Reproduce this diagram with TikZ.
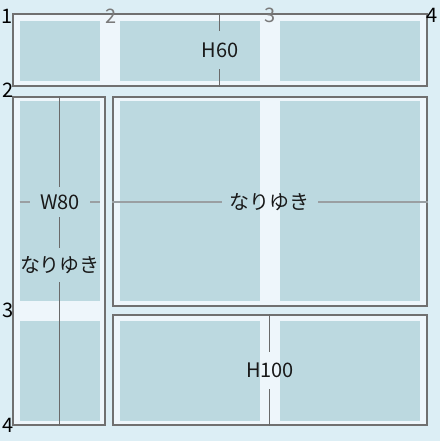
\documentclass[tikz,border=0pt]{standalone}
\usepackage{fontspec}
\setmainfont{Noto Sans CJK JP}
\usetikzlibrary{fit}

\definecolor{bgblue}{HTML}{DCEEF5}
\definecolor{boxfill}{HTML}{EEF6FB}
\definecolor{cellblue}{HTML}{BCD9E0}
\definecolor{edgegray}{HTML}{707070}
\definecolor{dimdark}{HTML}{6A6A6A}
\definecolor{dimlight}{HTML}{9A9FA2}
\definecolor{numgray}{HTML}{7A7A7A}

\begin{document}
\begin{tikzpicture}[x=0.5pt,y=-0.5pt,
  area/.style={draw=edgegray, line width=1pt, fill=boxfill, inner sep=0pt},
  cell/.style={fill=cellblue, inner sep=0pt},
  tag/.style={inner sep=0pt, font=\fontsize{10}{12}\selectfont, text=black!90},
  lineno/.style={inner sep=0pt, font=\fontsize{10}{12}\selectfont},
  dimv/.style={draw=dimdark, line width=0.5pt},
  dimh/.style={draw=dimlight, line width=0.6pt}]

% Background
\fill[bgblue] (0,0) rectangle (440,441);
\useasboundingbox (0,0) rectangle (440,441);

% Draw the grid areas
\node[area, fit={(13,14) (427,86)}] (topbox) {};
\node[area, fit={(13,97) (105,425)}] (leftbox) {};
\node[area, fit={(113,97) (427,306)}] (bigbox) {};
\node[area, fit={(113,315) (427,425)}] (lowbox) {};

% Draw the cells
\foreach \name/\xa/\ya/\xb/\yb in {t1/20/21/100/81, t2/120/21/260/81, t3/280/21/420/81,
    l1/20/101/100/301, l2/20/321/100/421,
    b1/120/101/260/301, b2/280/101/420/301,
    d1/120/321/260/421, d2/280/321/420/421}
  \node[cell, fit={(\xa,\ya) (\xb,\yb)}] (\name) {};

% Labels
\node[tag, minimum height=19pt] (h60) at (220,50) {H60};
\node[tag, minimum width=30pt, minimum height=15pt] (w80) at (60,202) {W80};
\node[tag, minimum height=17pt] (autoa) at (60,265) {なりゆき};
\node[tag, minimum width=48pt, minimum height=15pt] (autob) at (270,202) {なりゆき};
\node[tag, minimum height=18.5pt] (h100) at (270,370.5) {H100};

% Size lines
\draw[dimv] (h60.north |- topbox.north) -- (h60.north);
\draw[dimv] (h60.south) -- (h60.south |- topbox.south);
\draw[dimv] (leftbox.north -| w80) -- (w80.north);
\draw[dimv] (w80.south) -- (autoa.north);
\draw[dimv] (autoa.south) -- (leftbox.south -| autoa);
\draw[dimh] (l1.west |- w80) -- (w80.west);
\draw[dimh] (w80.east) -- (l1.east |- w80);
\draw[dimh] (bigbox.west |- autob) -- (autob.west);
\draw[dimh] (autob.east) -- (bigbox.east |- autob);
\draw[dimv] (h100.north |- lowbox.north) -- (h100.north);
\draw[dimv] (h100.south) -- (h100.south |- lowbox.south);

% Line numbers
\foreach \name/\n/\x/\y/\c in {ca/1/7.5/16/black, cb/2/111/16/numgray, cc/3/270.5/15.5/numgray,
    cd/4/432.5/15.5/black, rb/2/8/90/black, rc/3/8/310.5/black, rd/4/8.5/425/black}
  \node[lineno, text=\c] (\name) at (\x,\y) {\n};

\end{tikzpicture}
\end{document}
